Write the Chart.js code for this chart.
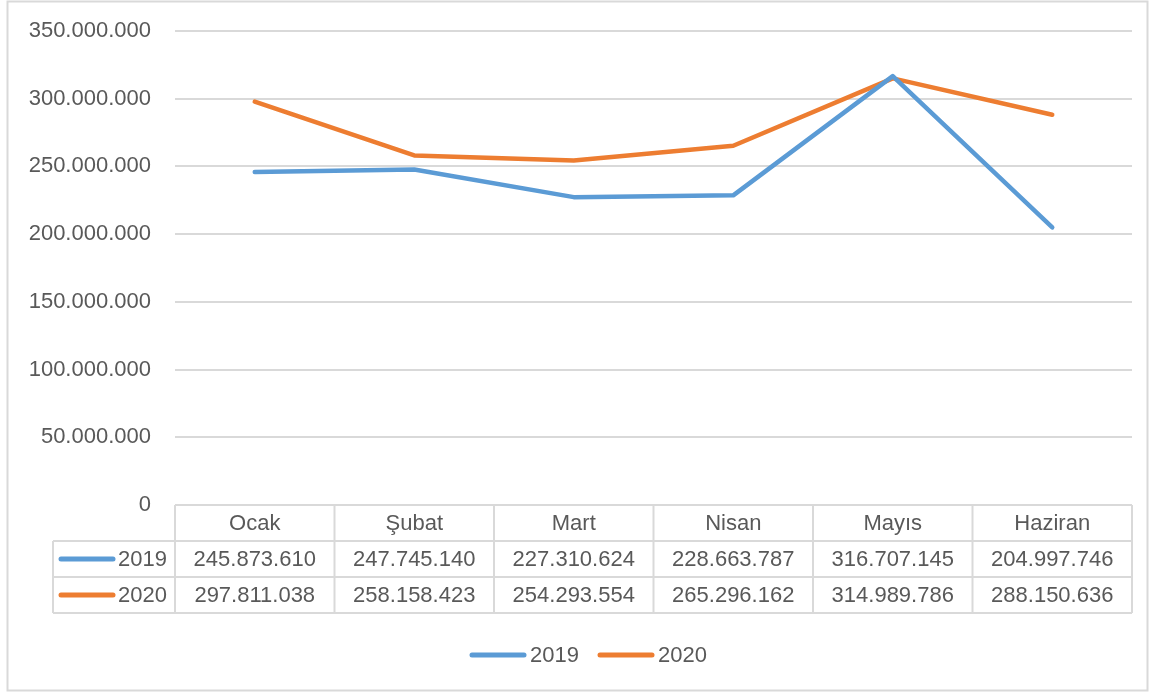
<!DOCTYPE html>
<html>
<head>
<meta charset="utf-8">
<script src="https://cdn.jsdelivr.net/npm/chart.js@4"></script>
<style>
	body { margin: 0; background: #fff; }
	#wrap { position: relative; width: 1156px; height: 693px; }
</style>
</head>
<body>
<div id="wrap"><canvas id="chart-aylik"></canvas></div>
<script>
// Data
var aylar = ['Ocak', 'Şubat', 'Mart', 'Nisan', 'Mayıs', 'Haziran'];
var seriAdlari = ['2019', '2020'];
var veri2019 = [245873610, 247745140, 227310624, 228663787, 316707145, 204997746];
var veri2020 = [297811038, 258158423, 254293554, 265296162, 314989786, 288150636];
var yTicks = [0, 50000000, 100000000, 150000000, 200000000, 250000000, 300000000, 350000000];

var renkler = ['#5B9BD5', '#ED7D31'];
var font = '"Liberation Sans", Arial, sans-serif';
var fontSize = 22;
var textColor = '#595959';
var gridColor = '#D9D9D9';

function formatTR(v) {
	return String(v).replace(/\B(?=(\d{3})+(?!\d))/g, '.');
}

// draws the data table under the plot + the legend + outer border
var tablePlugin = {
	id: 'dataTable',
	afterDraw: function(chart) {
		var ctx = chart.ctx;
		var area = chart.chartArea;
		var xs = chart.scales.x;
		var rowH = 36;
		var top = area.bottom;
		var labelLeft = 53;
		var n = aylar.length;
		var colW = (area.right - area.left) / n;

		ctx.save();
		ctx.strokeStyle = gridColor;
		ctx.lineWidth = 2;

		// outer chart border
		ctx.strokeRect(7.5, 1.5, 1140, 689);

		// table lines
		ctx.beginPath();
		ctx.moveTo(area.left, top);
		ctx.lineTo(area.right, top);
		for (var i = 0; i <= n; i++) {
			var bx = area.left + colW * i;
			ctx.moveTo(bx, top);
			ctx.lineTo(bx, top + rowH * 3);
		}
		for (var r = 1; r <= 3; r++) {
			ctx.moveTo(labelLeft, top + rowH * r);
			ctx.lineTo(area.right, top + rowH * r);
		}
		ctx.moveTo(labelLeft, top + rowH);
		ctx.lineTo(labelLeft, top + rowH * 3);
		ctx.stroke();

		ctx.fillStyle = textColor;
		ctx.font = fontSize + 'px ' + font;
		ctx.textAlign = 'center';
		ctx.textBaseline = 'middle';

		aylar.forEach(function(ay, i) {
			ctx.fillText(ay, xs.getPixelForValue(i), top + rowH / 2 + 1);
		});

		var seriler = chart.data.datasets;
		seriler.forEach(function(ds, s) {
			var cy = top + rowH * (s + 1) + rowH / 2 + 1;
			ds.data.forEach(function(v, i) {
				ctx.fillText(formatTR(v), xs.getPixelForValue(i), cy);
			});
			// row label with swatch
			ctx.strokeStyle = ds.borderColor;
			ctx.lineWidth = 5;
			ctx.lineCap = 'round';
			ctx.beginPath();
			ctx.moveTo(61, cy - 1);
			ctx.lineTo(113, cy - 1);
			ctx.stroke();
			ctx.textAlign = 'right';
			ctx.fillText(ds.label, area.left - 8, cy);
			ctx.textAlign = 'center';
		});

		// legend
		var ly = 655;
		var lx = [472, 600];
		seriler.forEach(function(ds, s) {
			ctx.strokeStyle = ds.borderColor;
			ctx.lineWidth = 5;
			ctx.lineCap = 'round';
			ctx.beginPath();
			ctx.moveTo(lx[s], ly);
			ctx.lineTo(lx[s] + 52, ly);
			ctx.stroke();
			ctx.textAlign = 'left';
			ctx.fillText(ds.label, lx[s] + 58, ly + 1);
		});

		ctx.restore();
	}
};

var config = {
	type: 'line',
	data: {
		labels: aylar,
		datasets: [{
			label: seriAdlari[0],
			data: veri2019,
			borderColor: renkler[0],
			backgroundColor: renkler[0],
			borderWidth: 4.5,
			borderCapStyle: 'round',
			borderJoinStyle: 'round',
			pointRadius: 0,
			tension: 0
		}, {
			label: seriAdlari[1],
			data: veri2020,
			borderColor: renkler[1],
			backgroundColor: renkler[1],
			borderWidth: 4.5,
			borderCapStyle: 'round',
			borderJoinStyle: 'round',
			pointRadius: 0,
			tension: 0
		}]
	},
	options: {
		responsive: false,
		animation: false,
		layout: {
			padding: { left: 0, top: 31, right: 24, bottom: 188 }
		},
		plugins: {
			legend: { display: false },
			tooltip: { enabled: false }
		},
		scales: {
			x: {
				display: false,
				offset: true
			},
			y: {
				min: 0,
				max: 350000000,
				afterFit: function(scale) {
					scale.width = 175;
					scale.paddingTop = 10;
					scale.paddingBottom = 10;
				},
				afterBuildTicks: function(scale) {
					scale.ticks = yTicks.map(function(v) { return { value: v }; });
				},
				border: { display: false },
				grid: {
					color: gridColor,
					lineWidth: 2,
					drawTicks: false
				},
				ticks: {
					padding: 24,
					color: textColor,
					font: { family: font, size: fontSize },
					callback: function(v) { return formatTR(v); }
				}
			}
		}
	},
	plugins: [tablePlugin]
};

var canvas = document.getElementById('chart-aylik');
canvas.width = 1156;
canvas.height = 693;
var ctx = canvas.getContext('2d');
var chartAylik = new Chart(ctx, config);
</script>
</body>
</html>
